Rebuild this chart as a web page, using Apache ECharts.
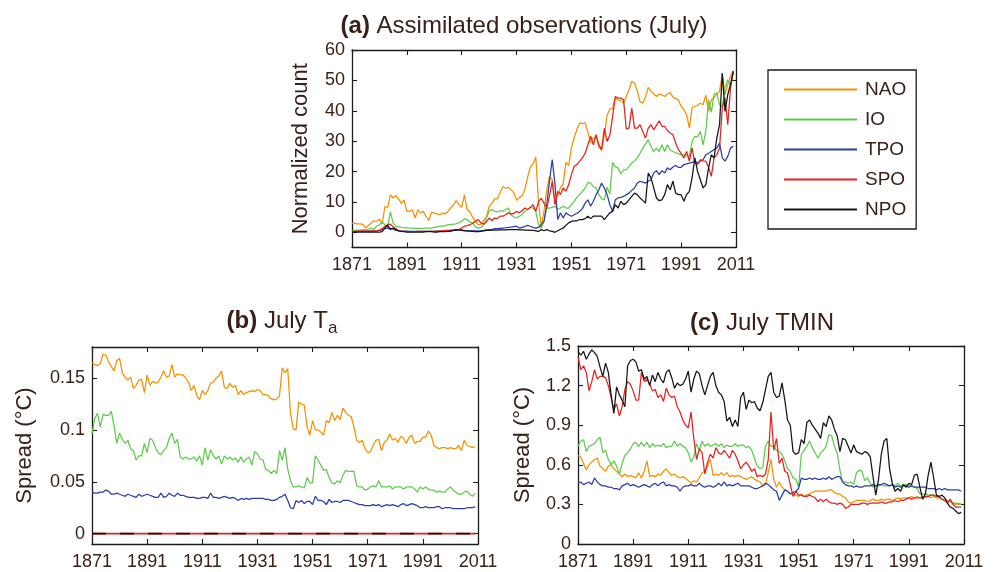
<!DOCTYPE html>
<html>
<head>
<meta charset="utf-8">
<script src="https://cdn.jsdelivr.net/npm/echarts@6/dist/echarts.min.js"></script>
<style>
  html, body { margin: 0; padding: 0; background: #ffffff; }
  #chart { width: 993px; height: 572px; }
</style>
</head>
<body>
<div id="chart"></div>
<script>
// Annual values, July, 1871-2010 (one value per year, rows of ten years)
const firstYear = 1871;

// (a) Normalized count of assimilated observations
const countNAO = [
  2.9, 2.9, 2.8, 2.8, 2.6, 1.4, 2.3, 3.0, 3.8, 3.6,
  4.4, 2.8, 8.5, 8.2, 12.3, 11.3, 12.1, 11.0, 9.5, 10.6,
  6.9, 6.9, 7.4, 4.7, 7.4, 6.3, 6.9, 5.2, 3.9, 6.7,
  6.3, 6.1, 5.8, 6.3, 6.1, 6.9, 8.0, 9.1, 10.4, 9.1,
  8.2, 12.3, 7.4, 6.7, 4.9, 3.6, 2.5, 2.6, 4.0, 5.0,
  8.5, 9.5, 11.0, 11.0, 13.0, 15.0, 14.5, 14.8, 14.0, 13.0,
  10.5, 11.5, 12.0, 14.0, 18.0, 21.5, 22.5, 24.8, 10.0, 1.8,
  7.0, 14.0, 18.4, 17.3, 10.0, 12.0, 14.6, 16.0, 23.0, 22.0,
  27.7, 31.2, 33.8, 36.0, 35.8, 36.0, 33.0, 29.5, 31.0, 31.5,
  28.0, 27.0, 32.0, 38.5, 40.6, 40.7, 44.5, 43.5, 43.4, 42.5,
  44.7, 46.9, 49.7, 49.2, 46.5, 43.0, 42.5, 44.4, 47.7, 46.4,
  45.5, 44.7, 45.5, 45.2, 44.7, 45.5, 46.1, 44.5, 44.0, 43.6,
  41.4, 40.4, 38.7, 34.3, 41.1, 41.4, 41.8, 42.5, 42.0, 45.1,
  39.8, 43.6, 44.2, 45.5, 46.4, 52.0, 45.3, 48.6, 51.3, 53.2
];
const countIO = [
  0.5, 0.6, 0.7, 0.7, 0.8, 0.8, 1.0, 1.4, 1.0, 2.0,
  2.5, 3.4, 2.5, 2.0, 6.7, 3.0, 2.0, 1.8, 1.6, 1.5,
  1.5, 1.4, 1.4, 1.3, 1.3, 1.2, 1.3, 1.4, 1.4, 1.4,
  1.6, 1.8, 2.0, 2.0, 2.2, 2.5, 2.5, 2.7, 2.8, 3.2,
  3.6, 4.5, 4.2, 3.4, 3.0, 1.8, 1.4, 1.6, 2.5, 4.7,
  6.9, 7.5, 6.9, 6.7, 7.1, 6.9, 7.5, 8.0, 5.8, 5.0,
  4.7, 5.3, 5.8, 6.9, 7.5, 8.2, 8.0, 6.9, 2.5, 1.4,
  3.6, 8.0, 8.0, 8.2, 8.6, 7.5, 8.0, 8.6, 8.0, 8.0,
  9.1, 10.2, 11.5, 12.4, 13.5, 14.5, 16.4, 16.2, 15.0, 14.6,
  12.4, 11.1, 10.7, 14.8, 12.6, 23.0, 21.6, 21.2, 19.2, 20.6,
  20.6, 21.7, 22.8, 23.5, 24.5, 26.0, 27.7, 29.0, 30.5, 28.3,
  26.6, 27.7, 26.6, 28.8, 26.6, 28.8, 27.1, 26.6, 26.2, 25.8,
  25.6, 25.5, 25.3, 25.0, 29.9, 31.6, 31.5, 33.2, 28.8, 33.2,
  43.6, 39.5, 45.5, 45.8, 42.0, 41.4, 47.5, 50.2, 48.0, 52.4
];
const countTPO = [
  0.2, 0.2, 0.2, 0.3, 0.3, 0.3, 0.3, 0.4, 0.4, 0.5,
  0.6, 0.8, 1.2, 1.4, 1.3, 1.0, 0.6, 0.5, 0.4, 0.4,
  0.4, 0.3, 0.3, 0.3, 0.3, 0.3, 0.3, 0.3, 0.3, 0.3,
  0.3, 0.4, 0.4, 0.4, 0.5, 0.5, 0.5, 0.6, 0.7, 0.8,
  0.8, 0.6, 0.5, 0.5, 0.5, 0.5, 0.5, 0.5, 0.6, 0.8,
  0.9, 1.0, 1.2, 1.2, 1.3, 1.4, 1.5, 1.6, 1.7, 1.9,
  2.0, 1.4, 1.6, 1.9, 2.3, 2.0, 1.6, 1.4, 1.6, 2.5,
  3.6, 9.1, 16.8, 23.9, 16.0, 4.2, 6.4, 4.7, 6.4, 5.8,
  5.3, 5.8, 6.2, 6.9, 7.8, 9.6, 10.7, 8.6, 10.2, 12.4,
  14.0, 16.2, 14.6, 12.4, 9.1, 6.9, 10.7, 11.3, 11.5, 11.8,
  12.4, 12.9, 13.8, 14.6, 16.2, 16.8, 16.5, 16.2, 16.8, 17.3,
  19.5, 20.3, 19.0, 20.3, 19.5, 21.2, 20.6, 21.5, 22.0, 21.4,
  21.4, 22.3, 22.5, 22.8, 23.0, 23.4, 22.8, 23.4, 23.9, 25.5,
  26.0, 26.6, 27.2, 27.7, 29.4, 24.5, 23.4, 25.0, 27.7, 28.3
];
const countSPO = [
  0.3, 0.3, 0.4, 0.4, 0.5, 0.4, 0.4, 0.5, 0.5, 0.5,
  0.7, 1.2, 2.0, 2.5, 2.7, 1.8, 1.2, 0.6, 0.3, 0.3,
  0.2, 0.2, 0.2, 0.2, 0.3, 0.3, 0.3, 0.3, 0.3, 0.3,
  0.3, 0.4, 0.4, 0.5, 0.6, 0.6, 0.7, 0.8, 0.9, 1.0,
  1.4, 2.0, 2.2, 2.5, 3.0, 3.6, 4.2, 3.1, 2.7, 3.4,
  4.7, 3.8, 4.7, 4.5, 5.3, 5.3, 5.8, 6.4, 6.0, 6.2,
  6.9, 6.4, 7.1, 8.0, 7.5, 8.2, 9.1, 6.9, 10.0, 11.2,
  9.6, 8.0, 12.0, 16.8, 9.1, 13.5, 12.4, 14.6, 13.5, 15.7,
  19.0, 21.7, 22.3, 23.4, 24.5, 26.0, 28.8, 31.6, 28.8, 32.1,
  28.8, 27.2, 34.3, 29.9, 32.0, 38.0, 44.7, 44.2, 44.2, 43.6,
  34.0, 34.3, 40.9, 34.3, 34.3, 35.4, 33.2, 31.0, 34.3, 35.4,
  33.8, 35.2, 36.7, 34.9, 34.9, 33.5, 32.7, 32.1, 29.4, 27.2,
  26.0, 24.5, 26.6, 23.4, 27.7, 22.8, 22.3, 23.9, 23.5, 23.4,
  21.4, 18.4, 24.5, 25.5, 27.7, 40.9, 44.2, 35.4, 47.5, 53.0
];
const countNPO = [
  0.1, 0.1, 0.1, 0.1, 0.1, 0.1, 0.1, 0.1, 0.1, 0.1,
  0.1, 0.2, 1.5, 2.3, 0.9, 1.4, 0.9, 0.5, 0.3, 0.2,
  0.1, 0.1, 0.1, 0.1, 0.1, 0.1, 0.1, 0.2, 0.2, 0.2,
  0.1, 0.1, 0.2, 0.2, 0.2, 0.3, 0.4, 0.6, 0.9, 0.7,
  0.6, 0.5, 0.5, 0.4, 0.3, 0.2, 0.2, 0.3, 0.5, 0.6,
  0.6, 0.7, 0.7, 0.7, 0.8, 0.8, 0.8, 0.9, 0.9, 0.9,
  0.9, 0.8, 0.8, 0.7, 0.7, 0.6, 0.6, 0.5, 0.3, 0.9,
  0.5, 0.9, 0.5, 0.3, 0.0, 0.5, 1.0, 1.4, 2.3, 3.1,
  3.6, 3.8, 3.8, 4.2, 4.2, 4.5, 5.3, 4.5, 5.3, 5.3,
  5.3, 5.3, 4.2, 5.3, 6.4, 6.9, 9.1, 8.0, 10.2, 9.1,
  9.6, 10.7, 11.8, 12.9, 12.4, 11.3, 10.5, 9.6, 19.5, 17.9,
  14.6, 11.3, 10.4, 10.7, 12.4, 15.7, 14.0, 16.8, 12.9, 12.4,
  12.4, 10.2, 12.4, 13.5, 18.0, 24.5, 20.0, 17.3, 14.6, 15.7,
  21.2, 25.5, 24.5, 31.0, 35.4, 52.4, 39.8, 45.3, 48.6, 53.0
];

// (b) Ensemble spread of July Ta (°C)
const taNAO = [
  0.165, 0.163, 0.162, 0.164, 0.173, 0.172, 0.166, 0.161, 0.157, 0.167,
  0.169, 0.155, 0.151, 0.148, 0.151, 0.140, 0.143, 0.148, 0.149, 0.136,
  0.153, 0.143, 0.147, 0.145, 0.146, 0.151, 0.157, 0.151, 0.152, 0.163,
  0.151, 0.154, 0.153, 0.153, 0.150, 0.146, 0.138, 0.143, 0.133, 0.129,
  0.138, 0.134, 0.138, 0.145, 0.146, 0.150, 0.152, 0.157, 0.141, 0.140,
  0.145, 0.141, 0.143, 0.134, 0.138, 0.134, 0.136, 0.137, 0.138, 0.137,
  0.139, 0.138, 0.134, 0.134, 0.133, 0.130, 0.129, 0.130, 0.133, 0.160,
  0.155, 0.159, 0.116, 0.101, 0.100, 0.127, 0.125, 0.124, 0.103, 0.095,
  0.109, 0.100, 0.100, 0.098, 0.095, 0.109, 0.107, 0.117, 0.109, 0.114,
  0.110, 0.121, 0.117, 0.114, 0.113, 0.103, 0.090, 0.088, 0.090, 0.082,
  0.078, 0.079, 0.085, 0.090, 0.091, 0.080, 0.088, 0.090, 0.096, 0.090,
  0.092, 0.088, 0.094, 0.092, 0.087, 0.093, 0.095, 0.087, 0.089, 0.089,
  0.093, 0.093, 0.099, 0.095, 0.085, 0.083, 0.082, 0.083, 0.083, 0.082,
  0.083, 0.082, 0.082, 0.085, 0.080, 0.090, 0.085, 0.084, 0.083, 0.084
];
const taIO = [
  0.096, 0.111, 0.116, 0.103, 0.115, 0.114, 0.114, 0.118, 0.104, 0.087,
  0.097, 0.091, 0.087, 0.090, 0.082, 0.080, 0.071, 0.075, 0.075, 0.087,
  0.078, 0.092, 0.090, 0.083, 0.078, 0.076, 0.080, 0.083, 0.092, 0.097,
  0.087, 0.091, 0.074, 0.072, 0.074, 0.072, 0.072, 0.074, 0.070, 0.075,
  0.066, 0.083, 0.071, 0.081, 0.075, 0.072, 0.075, 0.067, 0.075, 0.072,
  0.074, 0.071, 0.073, 0.069, 0.074, 0.069, 0.072, 0.074, 0.066, 0.079,
  0.077, 0.072, 0.071, 0.062, 0.061, 0.058, 0.061, 0.058, 0.080, 0.071,
  0.083, 0.062, 0.051, 0.045, 0.045, 0.046, 0.045, 0.044, 0.054, 0.049,
  0.049, 0.075, 0.071, 0.066, 0.061, 0.062, 0.054, 0.049, 0.048, 0.051,
  0.049, 0.056, 0.061, 0.060, 0.060, 0.060, 0.046, 0.045, 0.045, 0.042,
  0.043, 0.045, 0.046, 0.045, 0.051, 0.045, 0.045, 0.045, 0.046, 0.043,
  0.045, 0.045, 0.045, 0.043, 0.045, 0.045, 0.045, 0.043, 0.040, 0.045,
  0.043, 0.045, 0.043, 0.042, 0.042, 0.040, 0.041, 0.040, 0.040, 0.043,
  0.045, 0.042, 0.040, 0.038, 0.038, 0.040, 0.041, 0.038, 0.036, 0.039
];
const taTPO = [
  0.040, 0.039, 0.039, 0.040, 0.040, 0.042, 0.041, 0.038, 0.038, 0.039,
  0.038, 0.037, 0.036, 0.038, 0.037, 0.036, 0.035, 0.038, 0.036, 0.037,
  0.038, 0.037, 0.036, 0.035, 0.035, 0.039, 0.035, 0.036, 0.039, 0.037,
  0.036, 0.039, 0.037, 0.037, 0.036, 0.035, 0.035, 0.035, 0.034, 0.034,
  0.035, 0.035, 0.034, 0.039, 0.035, 0.035, 0.034, 0.035, 0.036, 0.035,
  0.034, 0.035, 0.034, 0.032, 0.034, 0.033, 0.034, 0.033, 0.034, 0.034,
  0.034, 0.034, 0.034, 0.033, 0.033, 0.032, 0.032, 0.033, 0.035, 0.036,
  0.038, 0.032, 0.025, 0.024, 0.032, 0.030, 0.032, 0.029, 0.031, 0.031,
  0.028, 0.036, 0.032, 0.032, 0.031, 0.028, 0.033, 0.030, 0.031, 0.031,
  0.030, 0.032, 0.032, 0.032, 0.031, 0.030, 0.029, 0.028, 0.028, 0.027,
  0.027, 0.027, 0.028, 0.027, 0.028, 0.026, 0.027, 0.028, 0.027, 0.028,
  0.027, 0.026, 0.028, 0.029, 0.027, 0.028, 0.029, 0.028, 0.027, 0.025,
  0.025, 0.026, 0.025, 0.025, 0.025, 0.026, 0.026, 0.024, 0.025, 0.025,
  0.025, 0.024, 0.024, 0.024, 0.024, 0.024, 0.025, 0.025, 0.025, 0.026
];
// SPO and NPO spreads of Ta stay at zero in every year
const taZero = [
  0, 0, 0, 0, 0, 0, 0, 0, 0, 0,
  0, 0, 0, 0, 0, 0, 0, 0, 0, 0,
  0, 0, 0, 0, 0, 0, 0, 0, 0, 0,
  0, 0, 0, 0, 0, 0, 0, 0, 0, 0,
  0, 0, 0, 0, 0, 0, 0, 0, 0, 0,
  0, 0, 0, 0, 0, 0, 0, 0, 0, 0,
  0, 0, 0, 0, 0, 0, 0, 0, 0, 0,
  0, 0, 0, 0, 0, 0, 0, 0, 0, 0,
  0, 0, 0, 0, 0, 0, 0, 0, 0, 0,
  0, 0, 0, 0, 0, 0, 0, 0, 0, 0,
  0, 0, 0, 0, 0, 0, 0, 0, 0, 0,
  0, 0, 0, 0, 0, 0, 0, 0, 0, 0,
  0, 0, 0, 0, 0, 0, 0, 0, 0, 0,
  0, 0, 0, 0, 0, 0, 0, 0, 0, 0
];

// (c) Ensemble spread of July TMIN (°C)
const tminNAO = [
  0.67, 0.66, 0.61, 0.56, 0.60, 0.62, 0.64, 0.65, 0.59, 0.57,
  0.55, 0.59, 0.60, 0.57, 0.55, 0.53, 0.51, 0.53, 0.51, 0.52,
  0.51, 0.50, 0.54, 0.50, 0.55, 0.63, 0.51, 0.52, 0.51, 0.53,
  0.52, 0.55, 0.57, 0.54, 0.52, 0.53, 0.51, 0.50, 0.51, 0.50,
  0.48, 0.46, 0.48, 0.47, 0.50, 0.54, 0.55, 0.59, 0.64, 0.52,
  0.53, 0.52, 0.54, 0.52, 0.54, 0.51, 0.52, 0.51, 0.52, 0.51,
  0.50, 0.49, 0.50, 0.51, 0.49, 0.48, 0.47, 0.44, 0.45, 0.54,
  0.64, 0.49, 0.43, 0.47, 0.43, 0.41, 0.40, 0.38, 0.38, 0.37,
  0.36, 0.38, 0.36, 0.37, 0.38, 0.39, 0.40, 0.40, 0.40, 0.40,
  0.40, 0.41, 0.41, 0.39, 0.38, 0.38, 0.36, 0.35, 0.32, 0.31,
  0.32, 0.33, 0.33, 0.33, 0.33, 0.32, 0.33, 0.34, 0.33, 0.33,
  0.34, 0.33, 0.34, 0.34, 0.33, 0.34, 0.35, 0.34, 0.35, 0.35,
  0.35, 0.36, 0.35, 0.36, 0.35, 0.36, 0.35, 0.36, 0.35, 0.36,
  0.35, 0.35, 0.34, 0.33, 0.33, 0.32, 0.31, 0.30, 0.31, 0.30
];
const tminIO = [
  0.74, 0.78, 0.79, 0.70, 0.74, 0.75, 0.76, 0.79, 0.81, 0.69,
  0.71, 0.64, 0.60, 0.63, 0.59, 0.53, 0.61, 0.67, 0.69, 0.72,
  0.76, 0.77, 0.74, 0.77, 0.74, 0.77, 0.73, 0.76, 0.74, 0.75,
  0.74, 0.76, 0.73, 0.74, 0.74, 0.78, 0.74, 0.76, 0.74, 0.73,
  0.69, 0.62, 0.66, 0.76, 0.71, 0.78, 0.74, 0.76, 0.74, 0.75,
  0.76, 0.74, 0.76, 0.73, 0.75, 0.74, 0.74, 0.76, 0.74, 0.75,
  0.75, 0.73, 0.74, 0.71, 0.65, 0.59, 0.57, 0.58, 0.74, 0.78,
  0.74, 0.74, 0.71, 0.70, 0.68, 0.63, 0.57, 0.55, 0.50, 0.49,
  0.43, 0.68, 0.71, 0.74, 0.78, 0.73, 0.69, 0.65, 0.69, 0.71,
  0.74, 0.83, 0.82, 0.74, 0.69, 0.56, 0.47, 0.47, 0.46, 0.47,
  0.45, 0.54, 0.56, 0.55, 0.48, 0.50, 0.46, 0.43, 0.44, 0.44,
  0.45, 0.44, 0.44, 0.44, 0.45, 0.44, 0.46, 0.44, 0.45, 0.45,
  0.44, 0.44, 0.43, 0.42, 0.38, 0.38, 0.38, 0.37, 0.37, 0.37,
  0.36, 0.35, 0.34, 0.33, 0.33, 0.32, 0.31, 0.31, 0.30, 0.30
];
const tminTPO = [
  0.46, 0.47, 0.45, 0.46, 0.47, 0.45, 0.50, 0.47, 0.45, 0.44,
  0.44, 0.43, 0.43, 0.42, 0.42, 0.41, 0.44, 0.45, 0.46, 0.44,
  0.45, 0.44, 0.43, 0.44, 0.45, 0.44, 0.43, 0.45, 0.46, 0.44,
  0.46, 0.47, 0.44, 0.45, 0.44, 0.44, 0.43, 0.40, 0.43, 0.44,
  0.44, 0.45, 0.44, 0.44, 0.46, 0.44, 0.43, 0.44, 0.44, 0.43,
  0.44, 0.46, 0.44, 0.47, 0.44, 0.45, 0.44, 0.45, 0.46, 0.44,
  0.44, 0.44, 0.44, 0.43, 0.42, 0.42, 0.43, 0.44, 0.46, 0.45,
  0.43, 0.41, 0.40, 0.33, 0.37, 0.41, 0.40, 0.38, 0.39, 0.40,
  0.42, 0.50, 0.49, 0.49, 0.50, 0.49, 0.50, 0.49, 0.49, 0.50,
  0.49, 0.51, 0.49, 0.50, 0.51, 0.51, 0.47, 0.45, 0.44, 0.44,
  0.43, 0.44, 0.43, 0.43, 0.44, 0.44, 0.44, 0.45, 0.44, 0.45,
  0.45, 0.46, 0.45, 0.44, 0.45, 0.43, 0.44, 0.43, 0.44, 0.44,
  0.43, 0.44, 0.43, 0.43, 0.43, 0.43, 0.43, 0.42, 0.42, 0.42,
  0.41, 0.42, 0.41, 0.42, 0.41, 0.41, 0.41, 0.41, 0.41, 0.40
];
const tminSPO = [
  1.42, 1.32, 1.35, 1.30, 1.16, 1.23, 1.32, 1.25, 1.27, 1.27,
  1.26, 1.20, 1.11, 1.02, 1.06, 0.97, 1.04, 1.17, 1.23, 1.21,
  1.16, 1.09, 1.09, 1.30, 1.23, 1.25, 1.21, 1.16, 1.17, 1.11,
  1.13, 1.08, 1.18, 1.13, 1.11, 1.12, 1.04, 1.00, 0.94, 0.90,
  0.88, 1.00, 0.80, 0.64, 0.72, 0.69, 0.53, 0.62, 0.68, 0.65,
  0.73, 0.69, 0.68, 0.71, 0.68, 0.65, 0.71, 0.68, 0.63, 0.57,
  0.60, 0.62, 0.59, 0.55, 0.57, 0.51, 0.52, 0.51, 0.53, 0.64,
  1.00, 0.71, 0.80, 0.61, 0.65, 0.55, 0.54, 0.45, 0.36, 0.40,
  0.37, 0.37, 0.36, 0.36, 0.37, 0.36, 0.35, 0.32, 0.34, 0.32,
  0.34, 0.32, 0.31, 0.31, 0.30, 0.31, 0.30, 0.27, 0.28, 0.30,
  0.30, 0.30, 0.30, 0.31, 0.31, 0.30, 0.31, 0.31, 0.31, 0.31,
  0.32, 0.31, 0.31, 0.32, 0.32, 0.33, 0.32, 0.33, 0.33, 0.34,
  0.35, 0.34, 0.35, 0.35, 0.35, 0.35, 0.36, 0.36, 0.37, 0.37,
  0.36, 0.36, 0.34, 0.33, 0.31, 0.34, 0.30, 0.28, 0.28, 0.28
];
const tminNPO = [
  1.46, 1.43, 1.46, 1.40, 1.44, 1.47, 1.45, 1.42, 1.34, 1.27,
  1.37, 1.30, 1.13, 0.99, 1.19, 1.13, 1.09, 1.04, 1.35, 1.39,
  1.40, 1.38, 1.31, 1.32, 1.25, 1.27, 1.20, 1.28, 1.23, 1.30,
  1.25, 1.22, 1.30, 1.32, 1.26, 1.18, 1.22, 1.20, 1.21, 1.25,
  1.31, 1.15, 1.25, 1.31, 1.29, 1.20, 1.13, 1.20, 1.27, 1.30,
  1.20, 1.15, 1.13, 1.08, 0.93, 0.96, 0.89, 0.94, 0.89, 1.11,
  1.15, 1.02, 1.09, 1.07, 1.08, 1.03, 1.01, 1.07, 1.17, 1.27,
  1.30, 1.15, 1.11, 1.12, 1.22, 1.09, 0.94, 0.90, 0.70, 0.68,
  0.69, 0.79, 0.76, 0.92, 0.94, 0.90, 0.87, 0.84, 0.80, 0.92,
  0.89, 0.97, 0.94, 0.87, 0.82, 0.70, 0.80, 0.79, 0.74, 0.69,
  0.75, 0.70, 0.69, 0.68, 0.70, 0.69, 0.66, 0.51, 0.37, 0.49,
  0.68, 0.78, 0.80, 0.57, 0.46, 0.40, 0.42, 0.40, 0.45, 0.43,
  0.46, 0.45, 0.52, 0.53, 0.43, 0.34, 0.38, 0.52, 0.62, 0.50,
  0.37, 0.36, 0.37, 0.35, 0.31, 0.28, 0.27, 0.25, 0.23, 0.24
];

// Axis ticks
const countTicks = [0, 10, 20, 30, 40, 50, 60];
const taTicks = [0, 0.05, 0.1, 0.15];
const tminTicks = [0, 0.3, 0.6, 0.9, 1.2, 1.5];

const regionNames = ['NAO', 'IO', 'TPO', 'SPO', 'NPO'];
const regionColors = {
  NAO: '#f39200',
  IO: '#5fcb4c',
  TPO: '#2b3ea8',
  SPO: '#e5231d',
  NPO: '#151515'
};

const textColor = '#3a2117';
const frameColor = '#1c1c1c';
const fontFamily = '"Liberation Sans", Arial, Helvetica, sans-serif';

function yearPairs(values) {
  return values.map(function (v, i) { return [firstYear + i, v]; });
}

function lineSeries(name, values, gridIndex, extra) {
  const s = {
    name: name,
    type: 'line',
    xAxisIndex: gridIndex * 2,
    yAxisIndex: gridIndex * 2,
    data: yearPairs(values),
    showSymbol: false,
    symbol: 'none',
    animation: false,
    lineStyle: { color: regionColors[name], width: 1.25 },
    itemStyle: { color: regionColors[name] },
    emphasis: { disabled: true }
  };
  return Object.assign(s, extra || {});
}

const frameLine = { show: true, onZero: false, lineStyle: { color: frameColor, width: 1.3 } };
const innerTick = { show: true, inside: true, length: 5, lineStyle: { color: frameColor, width: 1.1 } };
const labelStyle = { color: textColor, fontSize: 18, fontFamily: fontFamily };

function xPair(gridIndex) {
  const base = {
    type: 'value', gridIndex: gridIndex, min: 1871, max: 2011, interval: 20,
    splitLine: { show: false }, axisLine: frameLine
  };
  return [
    Object.assign({}, base, {
      position: 'bottom',
      axisTick: innerTick,
      axisLabel: Object.assign({ margin: 9, formatter: function (v) { return String(v); } }, labelStyle)
    }),
    Object.assign({}, base, {
      position: 'top',
      axisTick: innerTick,
      axisLabel: { show: false }
    })
  ];
}

function yPair(gridIndex, min, max, ticks, name, nameGap) {
  const base = {
    type: 'value', gridIndex: gridIndex, min: min, max: max,
    splitLine: { show: false }, axisLine: frameLine
  };
  return [
    Object.assign({}, base, {
      position: 'left',
      name: name,
      nameLocation: 'middle',
      nameGap: nameGap,
      nameTextStyle: { color: textColor, fontSize: 22, fontFamily: fontFamily },
      axisTick: Object.assign({ customValues: ticks }, innerTick),
      axisLabel: Object.assign({ margin: 7, customValues: ticks }, labelStyle)
    }),
    Object.assign({}, base, {
      position: 'right',
      axisTick: Object.assign({ customValues: ticks }, innerTick),
      axisLabel: { show: false }
    })
  ];
}

const series = [
  lineSeries('NAO', countNAO, 0),
  lineSeries('IO', countIO, 0),
  lineSeries('TPO', countTPO, 0),
  lineSeries('SPO', countSPO, 0),
  lineSeries('NPO', countNPO, 0),

  lineSeries('NAO', taNAO, 1),
  lineSeries('IO', taIO, 1),
  lineSeries('TPO', taTPO, 1),
  lineSeries('SPO', taZero, 1, { lineStyle: { color: regionColors.SPO, width: 1.6 } }),
  lineSeries('NPO', taZero, 1, { lineStyle: { color: regionColors.NPO, width: 1.6, type: [14, 14] } }),

  lineSeries('NAO', tminNAO, 2),
  lineSeries('IO', tminIO, 2),
  lineSeries('TPO', tminTPO, 2),
  lineSeries('SPO', tminSPO, 2),
  lineSeries('NPO', tminNPO, 2)
];

function titleText(x, y, text) {
  return {
    type: 'text', x: x, y: y, silent: true,
    style: {
      text: text,
      align: 'center',
      verticalAlign: 'middle',
      fill: textColor,
      rich: {
        b: { fontSize: 24, fontWeight: 'bold', fontFamily: fontFamily, fill: textColor, lineHeight: 32, verticalAlign: 'middle' },
        n: { fontSize: 24, fontFamily: fontFamily, fill: textColor, lineHeight: 32, verticalAlign: 'middle' },
        s: { fontSize: 17, fontFamily: fontFamily, fill: textColor, lineHeight: 32, verticalAlign: 'bottom' }
      }
    }
  };
}

const chart = echarts.init(document.getElementById('chart'), null, { renderer: 'canvas' });
chart.setOption({
  backgroundColor: '#ffffff',
  animation: false,
  grid: [
    { left: 352, top: 50, width: 384, height: 197.5 },
    { left: 92, top: 347, width: 386, height: 197 },
    { left: 578, top: 346, width: 386, height: 198 }
  ],
  xAxis: [].concat(xPair(0), xPair(1), xPair(2)),
  yAxis: [].concat(
    yPair(0, -5, 60, countTicks, 'Normalized count', 40),
    yPair(1, -0.01, 0.18, taTicks, 'Spread (°C)', 56),
    yPair(2, 0, 1.5, tminTicks, 'Spread (°C)', 44)
  ),
  legend: {
    data: regionNames,
    orient: 'vertical',
    left: 768,
    top: 70,
    padding: [10, 10, 10, 15],
    itemWidth: 73,
    itemHeight: 14,
    itemGap: 11,
    selectedMode: false,
    borderColor: frameColor,
    borderWidth: 1.3,
    backgroundColor: '#ffffff',
    itemStyle: { opacity: 0 },
    textStyle: { color: textColor, fontSize: 19, fontFamily: fontFamily, padding: [0, 0, 0, 3] }
  },
  graphic: [
    titleText(524, 26, '{b|(a)}{n| Assimilated observations (July)}'),
    titleText(282, 321, '{b|(b)}{n| July T}{s|a}'),
    titleText(762, 323, '{b|(c)}{n| July TMIN}')
  ],
  series: series
});
</script>
</body>
</html>
